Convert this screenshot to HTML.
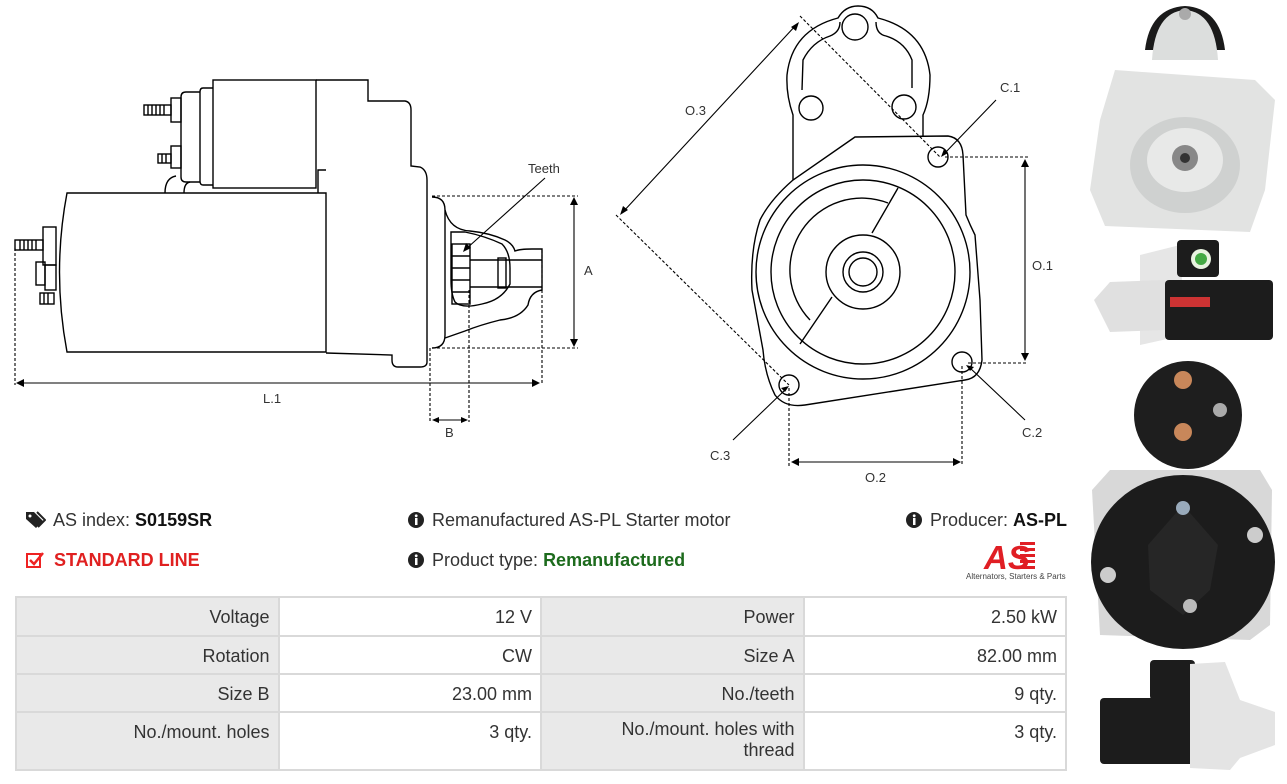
<!DOCTYPE html>
<html><head><meta charset="utf-8"><style>
*{margin:0;padding:0;box-sizing:border-box}
body{width:1287px;height:784px;background:#fff;position:relative;overflow:hidden;font-family:"Liberation Sans",sans-serif;color:#333}
.t{position:absolute;font-size:18px;white-space:nowrap;line-height:20px}
table{position:absolute;left:15px;top:596px;width:1052px;border-collapse:collapse}
td{border:2px solid #d9d9d9;font-size:18px;text-align:right;padding:0 8px;vertical-align:top;padding-top:9px;color:#333}
td.l{background:#e9e9e9;width:263px}
td.v{background:#fff;width:263px}
</style></head><body>
<svg width="1287" height="784" style="position:absolute;left:0;top:0" fill="none" stroke="#000" stroke-width="1.4">
<!-- LEFT DRAWING -->
<path d="M67,193 L326,193 L326,352 L67,352 Q52,272 67,193 Z"/>
<rect x="213" y="80" width="103" height="108"/>
<path d="M213,88 L203,88 Q200,88 200,92 L200,181 Q200,185 203,185 L213,185"/>
<path d="M200,92 L186,92 Q181,92 181,97 L181,177 Q181,182 186,182 L200,182"/>
<rect x="171" y="98" width="10" height="24"/><rect x="144" y="105" width="27" height="10"/>
<path d="M148,105v10M152,105v10M156,105v10M160,105v10M164,105v10"/>
<rect x="171" y="146" width="10" height="22"/><rect x="158" y="154" width="13" height="9"/>
<path d="M162,154v9M166,154v9"/>
<path d="M165,193 Q165,178 176,176 M184,193 Q184,183 190,182"/>
<path d="M316,80 L368,80 L368,101 L405,101 Q411,102 411,110 L411,166 L420,167 Q427,170 427,180 L427,362 Q427,367 420,367 L398,367 Q392,367 392,360 L392,355 L326,353"/>
<path d="M318,193 L318,170 L326,170"/>
<rect x="43" y="227" width="13" height="38"/><rect x="15" y="240" width="28" height="10"/>
<path d="M20,240v10M24,240v10M28,240v10M32,240v10M36,240v10"/>
<rect x="36" y="262" width="9" height="23"/><rect x="45" y="265" width="11" height="25"/>
<rect x="40" y="293" width="14" height="11"/><path d="M44,293v11M48,293v11"/>
<path d="M432,197 Q445,197 445,210 L445,335 Q445,348 432,348"/>
<path d="M445,210 Q450,230 470,231 Q490,233 505,240 Q513,244 515,251 Q520,249 532,249 L542,249 L542,290 Q530,292 528,305 Q520,318 500,320 Q480,325 465,331 L445,338"/>
<path d="M451,232 L465,232 Q485,236 502,244 Q510,252 510,268 L510,284 Q502,300 482,304 Q462,309 455,302 Q451,294 451,280 Z"/>
<rect x="452" y="244" width="18" height="60"/><path d="M452,256h18M452,268h18M452,280h18M452,292h18"/>
<path d="M470,260 L542,260 M470,287 L542,287"/>
<rect x="498" y="258" width="8" height="30"/>
<g stroke-dasharray="3,2" stroke-width="1.1">
<path d="M15,248 V385 M542,250 V385 M432,196 H578 M432,348 H578 M430,348 V422 M469,290 V422"/>
</g>
<path d="M18,383 H537 M574,199 V345 M433,420 H467" stroke-width="1.1"/>
<path d="M16,383 l8,-4 v8z M540,383 l-8,-4 v8z M574,197 l-4,8 h8z M574,347 l-4,-8 h8z M432,420 l7,-3 v6z M468,420 l-7,-3 v6z" fill="#000" stroke="none"/>
<path d="M545,178 L466,249" stroke-width="1.1"/><path d="M463,252 l3,-9 l5,5z" fill="#000" stroke="none"/>
<!-- RIGHT DRAWING -->
<path d="M855,137 L948,136 Q962,138 963,155 L966,215 Q970,225 975,235 L980,300 L982,360 Q980,378 965,380 L805,405 Q785,408 775,395 Q765,375 763,350 L752,290 Q750,250 760,220 Q770,200 793,180 Z"/>
<path d="M793,180 L793,115 Q786,95 787,75 Q792,30 838,18 Q845,6 858,6 Q872,6 878,18 Q925,30 930,75 Q930,100 923,115 L923,137"/>
<path d="M802,90 L803,60 Q812,42 830,36 Q840,32 840,22 M876,22 Q876,34 886,36 Q905,42 912,60 L912,88"/>
<circle cx="855" cy="27" r="13"/><circle cx="811" cy="108" r="12"/><circle cx="904" cy="107" r="12"/>
<circle cx="938" cy="157" r="10"/><circle cx="962" cy="362" r="10"/><circle cx="789" cy="385" r="10"/>
<circle cx="863" cy="272" r="107"/><circle cx="863" cy="272" r="92"/>
<path d="M888,203 A72,72 0 0 0 810,320"/>
<path d="M898,188 L872,233 M832,297 L800,344"/>
<circle cx="863" cy="272" r="37"/><circle cx="863" cy="272" r="20"/><circle cx="863" cy="272" r="14"/>
<g stroke-dasharray="3,2" stroke-width="1.1">
<path d="M800,16 L940,157 M616,215 L789,385 M945,157 H1028 M968,363 H1028 M789,388 V466 M962,366 V466"/>
</g>
<path d="M1025,162 V358 M794,462 H958 M797,24 L622,213" stroke-width="1.1"/>
<path d="M1025,159 l-4,8 h8z M1025,361 l-4,-8 h8z M791,462 l8,-4 v8z M961,462 l-8,-4 v8z M799,22 l-3,9 l-5,-4z M620,215 l3,-9 l5,4z" fill="#000" stroke="none"/>
<path d="M996,100 L944,154 M1025,420 L969,367 M733,440 L786,389" stroke-width="1.1"/>
<path d="M941,157 l3,-8 l4,4z M966,365 l8,2 l-4,4z M789,386 l-8,2 l4,4z" fill="#000" stroke="none"/>
<g fill="#333" stroke="none" font-family="Liberation Sans,sans-serif" font-size="13">
<text x="528" y="173">Teeth</text><text x="263" y="403">L.1</text><text x="584" y="275">A</text><text x="445" y="437">B</text>
<text x="685" y="115">O.3</text><text x="1000" y="92">C.1</text><text x="1032" y="270">O.1</text><text x="1022" y="437">C.2</text><text x="710" y="460">C.3</text><text x="865" y="482">O.2</text>
</g>
<!-- PHOTOS -->
<g stroke="none">
<path d="M1145,50 Q1150,8 1185,6 Q1220,8 1225,50 Z" fill="#1a1a1a"/>
<path d="M1152,60 Q1155,12 1185,10 Q1215,12 1218,60 Z" fill="#dcdedd"/>
<circle cx="1185" cy="14" r="6" fill="#aaa"/>
<path d="M1115,70 L1255,80 L1275,100 L1265,190 L1250,232 L1105,226 L1090,190 L1100,120 Z" fill="#e2e3e2"/>
<ellipse cx="1185" cy="165" rx="55" ry="48" fill="#cfd1d0"/><ellipse cx="1185" cy="160" rx="38" ry="32" fill="#e8e9e8"/>
<circle cx="1185" cy="158" r="13" fill="#888"/><circle cx="1185" cy="158" r="5" fill="#333"/>
<path d="M1140,255 L1180,245 L1185,335 L1140,345 Z" fill="#e6e6e6"/>
<path d="M1094,300 L1110,282 L1165,280 L1165,330 L1110,332 Z" fill="#e0e0e0"/>
<rect x="1165" y="280" width="108" height="60" rx="4" fill="#1c1c1c"/>
<rect x="1177" y="240" width="42" height="37" rx="4" fill="#1c1c1c"/>
<circle cx="1201" cy="259" r="10" fill="#e8f4e0"/><circle cx="1201" cy="259" r="6" fill="#4a4"/>
<rect x="1170" y="297" width="40" height="10" fill="#c33"/>
<circle cx="1188" cy="415" r="54" fill="#1e1e1e"/>
<circle cx="1183" cy="380" r="9" fill="#c8875a"/><circle cx="1183" cy="432" r="9" fill="#c8875a"/><circle cx="1220" cy="410" r="7" fill="#aaa"/>
<path d="M1092,490 L1110,470 L1260,470 L1272,490 L1270,625 L1250,640 L1100,635 Z" fill="#d8d8d8"/>
<ellipse cx="1183" cy="562" rx="92" ry="87" fill="#1c1c1c"/>
<path d="M1183,505 L1218,545 L1210,590 L1183,615 L1150,590 L1148,545 Z" fill="#262626"/>
<circle cx="1183" cy="508" r="7" fill="#9ab"/><circle cx="1255" cy="535" r="8" fill="#ccc"/><circle cx="1108" cy="575" r="8" fill="#ccc"/><circle cx="1190" cy="606" r="7" fill="#bbb"/>
<rect x="1150" y="660" width="45" height="40" rx="4" fill="#1c1c1c"/>
<rect x="1100" y="698" width="98" height="66" rx="4" fill="#1c1c1c"/>
<path d="M1190,664 L1225,662 L1240,700 L1275,712 L1275,745 L1240,758 L1230,770 L1190,768 Z" fill="#e4e4e4"/>
</g>
</svg>
<!-- info rows -->
<svg style="position:absolute;left:26px;top:511px" width="20" height="18" viewBox="0 0 20 18"><path d="M0,1 L8,1 L17,10 L10,17 L0,8 Z" fill="#222"/><circle cx="4" cy="5" r="1.5" fill="#fff"/><path d="M11,1 L19,9 L12,16" stroke="#222" stroke-width="2" fill="none"/></svg>
<div class="t" style="left:53px;top:510px">AS index: <b style="color:#111">S0159SR</b></div>
<svg style="position:absolute;left:26px;top:551px" width="20" height="18" viewBox="0 0 20 18"><rect x="1" y="3" width="13" height="13" fill="none" stroke="#e22" stroke-width="2"/><path d="M4,9 L8,13 L17,2" stroke="#e22" stroke-width="2.5" fill="none"/></svg>
<div class="t" style="left:54px;top:550px;color:#e02020;font-weight:bold">STANDARD LINE</div>
<svg style="position:absolute;left:408px;top:512px" width="16" height="16"><circle cx="8" cy="8" r="8" fill="#222"/><rect x="7" y="6" width="2.5" height="7" fill="#fff"/><circle cx="8.2" cy="3.8" r="1.4" fill="#fff"/></svg>
<div class="t" style="left:432px;top:510px">Remanufactured AS-PL Starter motor</div>
<svg style="position:absolute;left:408px;top:552px" width="16" height="16"><circle cx="8" cy="8" r="8" fill="#222"/><rect x="7" y="6" width="2.5" height="7" fill="#fff"/><circle cx="8.2" cy="3.8" r="1.4" fill="#fff"/></svg>
<div class="t" style="left:432px;top:550px">Product type: <b style="color:#1d6b1d">Remanufactured</b></div>
<svg style="position:absolute;left:906px;top:512px" width="16" height="16"><circle cx="8" cy="8" r="8" fill="#222"/><rect x="7" y="6" width="2.5" height="7" fill="#fff"/><circle cx="8.2" cy="3.8" r="1.4" fill="#fff"/></svg>
<div class="t" style="left:930px;top:510px">Producer: <b style="color:#111">AS-PL</b></div>
<svg style="position:absolute;left:980px;top:538px" width="80" height="34"><g fill="#e01e24"><rect x="40" y="4" width="15" height="3"/><rect x="40" y="10" width="15" height="3"/><rect x="40" y="16" width="15" height="3"/><rect x="40" y="22" width="15" height="3"/><rect x="38" y="28" width="17" height="3"/></g><text x="4" y="31" font-family="Liberation Sans,sans-serif" font-size="33" font-style="italic" font-weight="bold" fill="#e01e24">AS</text></svg>
<div class="t" style="left:966px;top:572px;font-size:8px;line-height:10px;color:#444">Alternators, Starters &amp; Parts</div>
<table>
<tr style="height:39px"><td class="l">Voltage</td><td class="v">12 V</td><td class="l">Power</td><td class="v">2.50 kW</td></tr>
<tr style="height:38px"><td class="l">Rotation</td><td class="v">CW</td><td class="l">Size A</td><td class="v">82.00 mm</td></tr>
<tr style="height:38px"><td class="l">Size B</td><td class="v">23.00 mm</td><td class="l">No./teeth</td><td class="v">9 qty.</td></tr>
<tr style="height:58px"><td class="l">No./mount. holes</td><td class="v">3 qty.</td><td class="l" style="line-height:21px;padding-top:6px">No./mount. holes with<br>thread</td><td class="v">3 qty.</td></tr>
</table>
</body></html>
